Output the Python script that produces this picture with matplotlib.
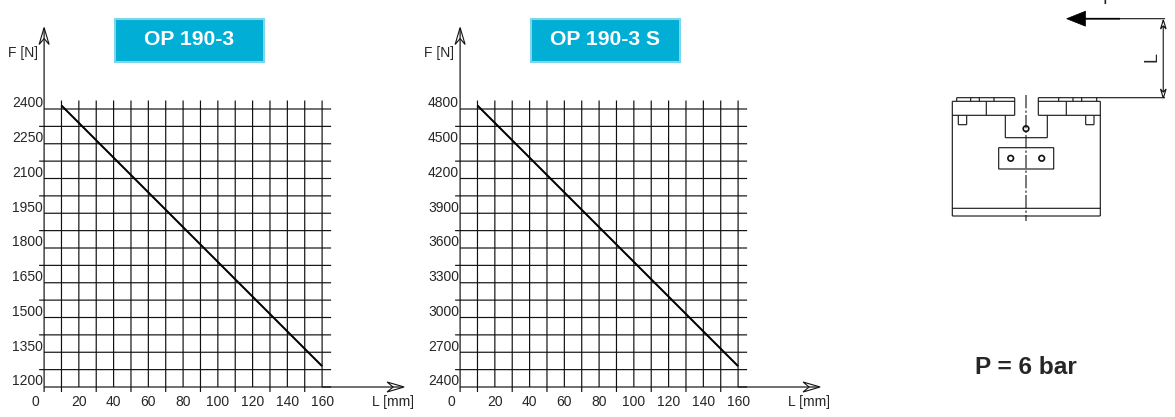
import numpy as np
import matplotlib
matplotlib.use('Agg')
import matplotlib.pyplot as plt
from matplotlib.patches import Rectangle, Circle, Polygon

plt.rcParams['font.family'] = 'Liberation Sans'

W, H = 1175, 417

x_grid = list(range(0, 170, 10))
x_labels = [0, 20, 40, 60, 80, 100, 120, 140, 160]

titles = ['OP 190-3', 'OP 190-3 S']
y_ticks_a = [1200, 1350, 1500, 1650, 1800, 1950, 2100, 2250, 2400]
y_ticks_b = [2400, 2700, 3000, 3300, 3600, 3900, 4200, 4500, 4800]
line_x = [10, 160]
line_a = [2415, 1290]
line_b = [4830, 2580]

INK = '#111111'
TXT = '#262626'
GRID_LW = 0.85

fig = plt.figure(figsize=(W / 100, H / 100), dpi=100)

# pixel layer for the drawing on the right and the title boxes
bg = fig.add_axes([0, 0, 1, 1])
bg.set_xlim(0, W)
bg.set_ylim(H, 0)
bg.axis('off')


def seg(x0, y0, x1, y1, lw=0.8, c=INK, **kw):
    bg.plot([x0, x1], [y0, y1], color=c, lw=lw, solid_capstyle='butt', snap=False, **kw)


def open_head(x, y, dx, dy, size=17, half=5):
    # open arrow head with notch, tip at x, y
    px, py = -dy, dx
    pts = [(x - size * dx + half * px, y - size * dy + half * py), (x, y),
           (x - size * dx - half * px, y - size * dy - half * py),
           (x - 0.65 * size * dx, y - 0.65 * size * dy)]
    bg.add_patch(Polygon(pts, closed=True, fc='white', ec=INK, lw=0.8, zorder=4, snap=False))


def chart(x0_px, ticks, line_y, title, box_x):
    x160_px = x0_px + 278
    ax = fig.add_axes([x0_px / W, 1 - 387 / H, 278 / W, 278 / H])
    ax.set_xlim(0, 160)
    ax.set_ylim(ticks[0], ticks[-1])
    ax.axis('off')
    step = (ticks[1] - ticks[0]) / 2
    y_grid = np.arange(ticks[0], ticks[-1] + step, step)
    px_x = 160 / 278.0
    px_y = (ticks[-1] - ticks[0]) / 278.0
    for i, v in enumerate(y_grid):
        left = 0 if i % 2 == 0 else -5 * px_x
        ax.plot([left, 160 + 9 * px_x], [v, v], color=INK, lw=GRID_LW, clip_on=False,
                solid_capstyle='butt', snap=False)
    for v in x_grid:
        bottom = ticks[0] - (5 * px_y if v % 20 == 10 or v == 0 else 0)
        top = ticks[-1] + 8.5 * px_y
        if v == 0:
            top = ticks[-1] + 81 * px_y
        ax.plot([v, v], [bottom, top], color=INK, lw=GRID_LW,
                clip_on=False, solid_capstyle='butt', snap=False)
    # x axis runs on past the grid to the arrow
    ax.plot([160, 160 + 80 * px_x], [ticks[0], ticks[0]], color=INK, lw=GRID_LW,
            clip_on=False, solid_capstyle='butt', snap=False)
    ax.plot(line_x, line_y, color='black', lw=1.45, clip_on=False, zorder=5,
            solid_capstyle='butt')
    open_head(x0_px, 27.5, 0, -1)
    open_head(x160_px + 82, 387, 1, 0)
    for t in ticks:
        ax.text(-1.0 * px_x, t + 5.7 * px_y, str(t), ha='right', va='center', fontsize=10,
                color=TXT, clip_on=False)
    for v in x_labels:
        xt = v if v else -9 * px_x
        ax.text(xt, ticks[0] - 15 * px_y, str(v), ha='center', va='center', fontsize=10,
                color=TXT, clip_on=False)
    ax.text(160 + 49.6 * px_x, ticks[0] - 15 * px_y, 'L [mm]', ha='left', va='center',
            fontsize=10, color=TXT, clip_on=False)
    bg.text(x0_px - 36.5, 52.5, 'F [N]', ha='left', va='center', fontsize=10, color=TXT)
    bg.add_patch(Rectangle((box_x, 19.3), 149, 42.7, fc='#00aed6', ec='#7fd5ea', lw=1.5))
    bg.text(box_x + 74.5, 39.8, title, ha='center', va='center', fontsize=15.2,
            fontweight='bold', color='white')


chart(44.1, y_ticks_a, line_a, titles[0], 114.7)
chart(460.1, y_ticks_b, line_b, titles[1], 530.7)

# schematic of the gripper
seg(1085, 18.7, 1165, 18.7)
seg(1085, 18.7, 1120, 18.7, lw=1.2, c='black')
bg.add_patch(Polygon([(1066.7, 18.7), (1085.5, 11.2), (1085.5, 26.2)], closed=True,
                     fc='black', ec='black', lw=0.5))
# the F is cut by the top edge of the picture, only its stem shows
bg.text(1102.5, 4, 'F', ha='left', va='baseline', fontsize=13, color=TXT, clip_on=True)
seg(1163.3, 20, 1163.3, 98, lw=1.0, c='#444444')
open_head(1163.3, 20, 0, -1, size=9, half=2.8)
open_head(1163.3, 98, 0, 1, size=9, half=2.8)
bg.text(1152, 57, 'L', rotation=90, ha='center', va='center', fontsize=13, color=TXT)

seg(956.7, 97.7, 1014.7, 97.7)
seg(1038.3, 97.7, 1165, 97.7)
for x in (956.7, 970.7, 979.3, 994, 1058.7, 1073, 1081.7, 1096.7):
    seg(x, 97.7, x, 101.3)
seg(952.3, 101.3, 1014.7, 101.3)
seg(1038.3, 101.3, 1100.3, 101.3)
seg(952.3, 101.3, 952.3, 216)
seg(1100.3, 101.3, 1100.3, 216)
seg(952.3, 208.3, 1100.3, 208.3)
seg(952.3, 216, 1100.3, 216)
seg(952.3, 115.3, 1014.7, 115.3)
seg(1038.3, 115.3, 1100.3, 115.3)
seg(986.3, 101.3, 986.3, 115.3)
seg(1066.3, 101.3, 1066.3, 115.3)
seg(1014.7, 97.7, 1014.7, 115.3)
seg(1038.3, 97.7, 1038.3, 115.3)
seg(1005.3, 115.3, 1005.3, 137.7)
seg(1047.3, 115.3, 1047.3, 137.7)
seg(1005.3, 137.7, 1047.3, 137.7)
for a, b in ((958.3, 966.7), (1085.7, 1094)):
    seg(a, 115.3, a, 124.7)
    seg(b, 115.3, b, 124.7)
    seg(a, 124.7, b, 124.7)
bg.add_patch(Rectangle((998.7, 147.7), 55, 21.3, fc='none', ec=INK, lw=0.8, snap=False))
for cx, cy in ((1026, 128.7), (1010.7, 158.3), (1041.7, 158.3)):
    bg.add_patch(Circle((cx, cy), 2.8, fc='none', ec=INK, lw=1.2, zorder=5))
bg.plot([1026, 1026], [95, 221], color=INK, lw=0.8, ls=(0, (12, 2, 2, 2)), snap=False)

bg.text(975, 368, 'P = 6 bar', ha='left', va='center', fontsize=17.6, fontweight='bold',
        color=TXT)

fig.savefig('out.png', dpi=100)
